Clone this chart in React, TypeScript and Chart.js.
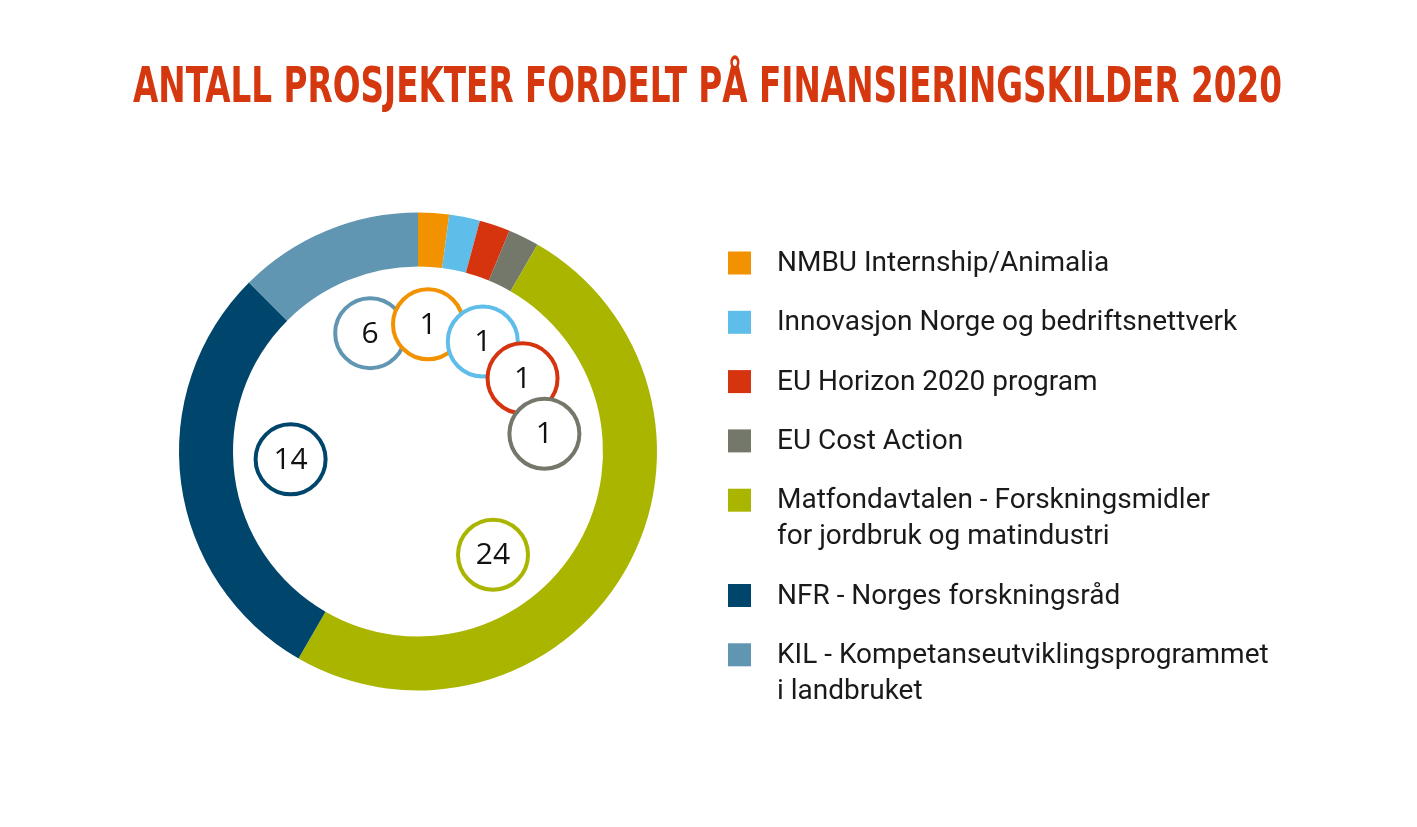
import React, { useEffect, useRef } from "react";
import { Chart, registerables } from "chart.js";

Chart.register(...registerables);

const TITLE = "ANTALL PROSJEKTER FORDELT PÅ FINANSIERINGSKILDER 2020";

const categories: (string | string[])[] = [
  "NMBU Internship/Animalia",
  "Innovasjon Norge og bedriftsnettverk",
  "EU Horizon 2020 program",
  "EU Cost Action",
  ["Matfondavtalen - Forskningsmidler", "for jordbruk og matindustri"],
  "NFR - Norges forskningsråd",
  ["KIL - Kompetanseutviklingsprogrammet", "i landbruket"],
];

const projectCounts = [1, 1, 1, 1, 24, 14, 6];

const sliceColors = [
  "#F39200",
  "#5FBDEA",
  "#D5340F",
  "#74786A",
  "#AAB500",
  "#00466C",
  "#6196B2",
];

// angle (degrees clockwise from top) where each value bubble sits
const bubbleAngles = [4.5, 30.5, 55, 82, 144, 266.5, 338];
const bubbleDrawOrder = [6, 0, 1, 2, 3, 4, 5];

const W = 1417;
const H = 827;

const decorPlugin = {
  id: "decor",
  afterDraw(chart: any) {
    const ctx = chart.ctx as CanvasRenderingContext2D;
    ctx.save();

    // Title
    ctx.fillStyle = "#D5380F";
    ctx.font = "bold 50px 'Liberation Sans Narrow', 'DejaVu Sans Condensed', sans-serif";
    ctx.textBaseline = "alphabetic";
    ctx.textAlign = "left";
    const targetW = 1149;
    const tw = ctx.measureText(TITLE).width;
    ctx.save();
    ctx.translate(133, 102);
    ctx.scale(targetW / tw, 1);
    ctx.fillText(TITLE, 0, 0);
    ctx.restore();

    // Bubbles
    const meta = chart.getDatasetMeta(0);
    const ds = chart.data.datasets[0];
    for (const i of bubbleDrawOrder) {
      const arc = meta.data[i];
      if (!arc) continue;
      const p = arc.getProps(["x", "y", "innerRadius"], true);
      const r = p.innerRadius * 0.69;
      const a = ((bubbleAngles[i] - 90) * Math.PI) / 180;
      const cx = p.x + r * Math.cos(a);
      const cy = p.y + r * Math.sin(a);
      ctx.beginPath();
      ctx.arc(cx, cy, 35, 0, Math.PI * 2);
      ctx.fillStyle = "#ffffff";
      ctx.fill();
      ctx.lineWidth = 4;
      ctx.strokeStyle = sliceColors[i];
      ctx.stroke();
      ctx.fillStyle = "#111111";
      ctx.font = "30px 'Open Sans', sans-serif";
      ctx.textAlign = "center";
      ctx.textBaseline = "middle";
      ctx.fillText(String(ds.data[i]), cx, cy + 1);
    }

    // Legend
    const labels = chart.data.labels as (string | string[])[];
    let y = 263;
    ctx.font = "28px Roboto, sans-serif";
    ctx.textAlign = "left";
    ctx.textBaseline = "middle";
    labels.forEach((lab, i) => {
      const lines = Array.isArray(lab) ? lab : [lab];
      ctx.fillStyle = sliceColors[i];
      ctx.fillRect(728, y - 11.5, 23, 23);
      ctx.fillStyle = "#1a1a1a";
      lines.forEach((ln, k) => {
        ctx.fillText(ln, 777, y + k * 36 + 1);
      });
      y += 59.3 + (lines.length - 1) * 36;
    });

    ctx.restore();
  },
};

export default function App() {
  const ref = useRef<HTMLCanvasElement | null>(null);
  useEffect(() => {
    document.body.style.margin = "0";
    const canvas = ref.current;
    if (!canvas) return;
    const chart = new Chart(canvas, {
      type: "doughnut",
      data: {
        labels: categories as any,
        datasets: [
          {
            data: projectCounts,
            backgroundColor: sliceColors,
            borderWidth: 0,
            hoverOffset: 0,
          },
        ],
      },
      options: {
        responsive: false,
        animation: false,
        cutout: "77.4%",
        layout: {
          padding: { left: 179, right: W - 657, top: 212.5, bottom: H - 690.5 },
        },
        plugins: {
          legend: { display: false },
          tooltip: { enabled: false },
          title: { display: false },
        },
        events: [],
      },
      plugins: [decorPlugin],
    });
    return () => chart.destroy();
  }, []);
  return (
    <div style={{ width: W, height: H, background: "#fff" }}>
      <canvas ref={ref} width={W} height={H} style={{ display: "block", width: W, height: H }} />
    </div>
  );
}
